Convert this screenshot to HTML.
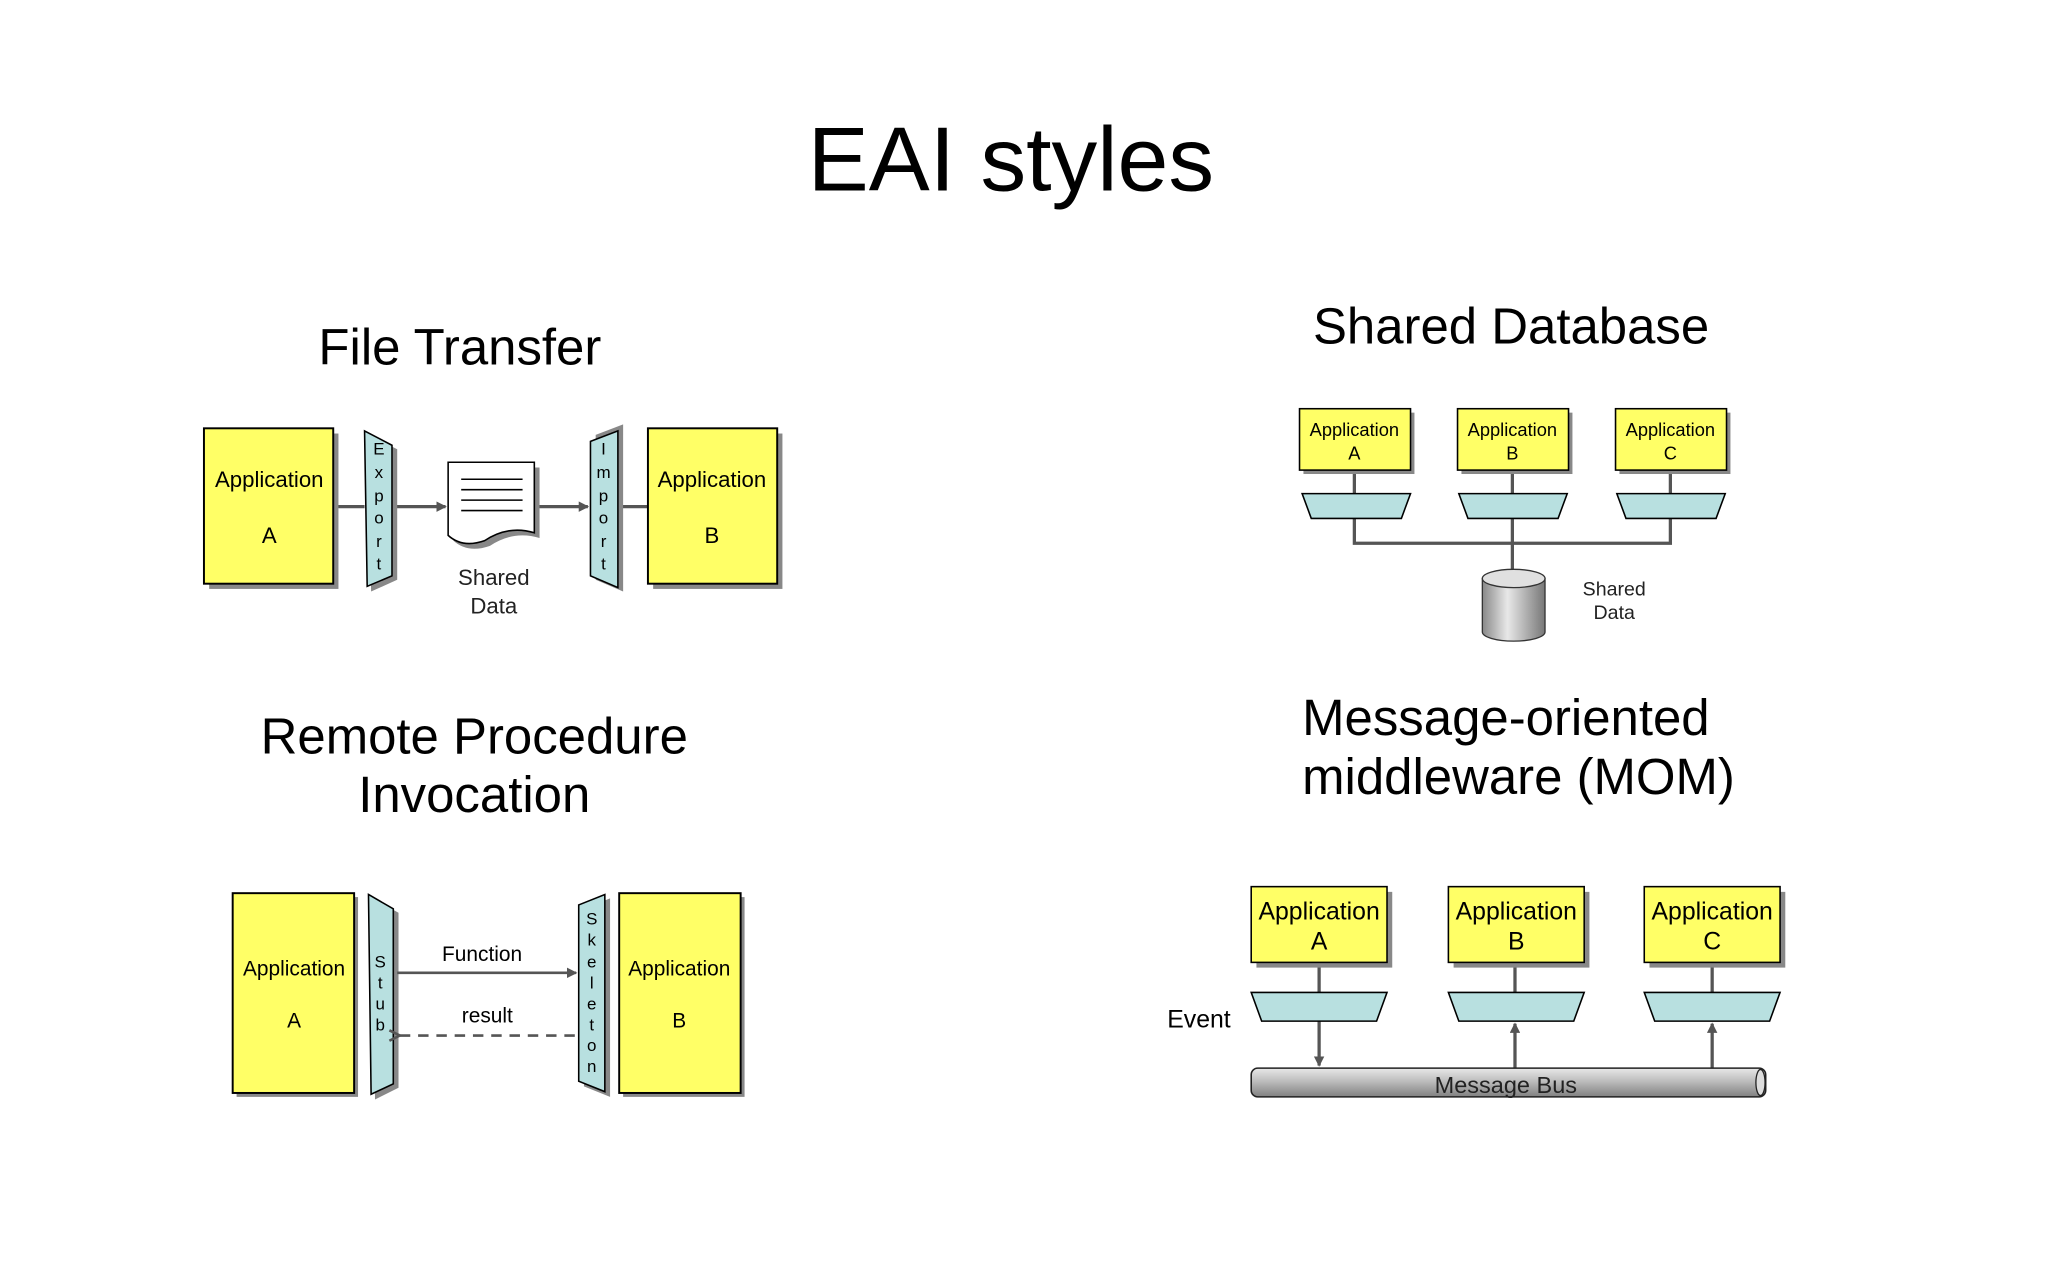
<!DOCTYPE html>
<html><head><meta charset="utf-8"><style>
html,body{margin:0;padding:0;background:#fff;}
svg{display:block;}
text{font-family:"Liberation Sans",sans-serif;}
</style></head><body>
<svg width="2048" height="1281" viewBox="0 0 1568 981" xmlns="http://www.w3.org/2000/svg">
<defs>
<marker id="ah" markerWidth="8" markerHeight="8" refX="7" refY="4" orient="auto" markerUnits="userSpaceOnUse"><path d="M0,0 L8,4 L0,8 z" fill="#555"/></marker>
<marker id="ao" markerWidth="10" markerHeight="10" refX="1" refY="5" orient="auto" markerUnits="userSpaceOnUse"><path d="M9,1 L1,5 L9,9" fill="none" stroke="#555" stroke-width="2"/></marker>
<linearGradient id="bus" x1="0" y1="0" x2="0" y2="1"><stop offset="0" stop-color="#e8e8e8"/><stop offset="0.5" stop-color="#b8b8b8"/><stop offset="1" stop-color="#808080"/></linearGradient>
<linearGradient id="cyl" x1="0" y1="0" x2="1" y2="0"><stop offset="0" stop-color="#888"/><stop offset="0.4" stop-color="#e8e8e8"/><stop offset="1" stop-color="#777"/></linearGradient>
</defs>
<rect width="1568" height="981" fill="#fff"/>
<g fill="#000" text-anchor="middle">
<text x="774" y="146" font-size="70">EAI styles</text>
<text x="352" y="279" font-size="39">File Transfer</text>
<text x="1157" y="263" font-size="39">Shared Database</text>
<text x="363" y="577" font-size="39">Remote Procedure</text>
<text x="363" y="622" font-size="39">Invocation</text>
<text x="997" y="563" font-size="39" text-anchor="start">Message-oriented</text>
<text x="997" y="608" font-size="39" text-anchor="start">middleware (MOM)</text>
</g>

<!-- File Transfer -->
<g stroke="#555" stroke-width="2.5" fill="none">
<line x1="255" y1="388" x2="279" y2="388"/>
<line x1="301" y1="388" x2="341" y2="388" marker-end="url(#ah)"/>
<line x1="410" y1="388" x2="450" y2="388" marker-end="url(#ah)"/>
<line x1="474" y1="388" x2="496" y2="388"/>
</g>
<rect x="160" y="332" width="99" height="119" fill="#888"/>
<rect x="156" y="328" width="99" height="119" fill="#ffff66" stroke="#000" stroke-width="1.5"/>
<text x="206" y="373" font-size="17" text-anchor="middle">Application</text>
<text x="206" y="416" font-size="17" text-anchor="middle">A</text>
<rect x="500" y="332" width="99" height="119" fill="#888"/>
<rect x="496" y="328" width="99" height="119" fill="#ffff66" stroke="#000" stroke-width="1.5"/>
<text x="545" y="373" font-size="17" text-anchor="middle">Application</text>
<text x="545" y="416" font-size="17" text-anchor="middle">B</text>
<polygon points="282,333 304,344 304,444 284,453" fill="#888"/>
<polygon points="279,330 300,341 300,441 281,449" fill="#b8e0e0" stroke="#000" stroke-width="1.2"/>
<g font-size="13" text-anchor="middle"><text x="290" y="348">E</text><text x="290" y="366">x</text><text x="290" y="384">p</text><text x="290" y="401">o</text><text x="290" y="419">r</text><text x="290" y="436">t</text></g>
<polygon points="456,333 477,325 477,453 456,444" fill="#888"/>
<polygon points="452,338 473,330 473,450 452,441" fill="#b8e0e0" stroke="#000" stroke-width="1.2"/>
<g font-size="13" text-anchor="middle"><text x="462" y="348">I</text><text x="462" y="366">m</text><text x="462" y="384">p</text><text x="462" y="401">o</text><text x="462" y="419">r</text><text x="462" y="436">t</text></g>
<path d="M347,358 L413,358 L413,412 Q393,406 375,418 Q358,424 347,414 Z" fill="#888"/>
<path d="M343,354 L409,354 L409,408 Q389,402 371,414 Q354,420 343,410 Z" fill="#fff" stroke="#000" stroke-width="1.2"/>
<g stroke="#000" stroke-width="1.2"><line x1="353" y1="367" x2="400" y2="367"/><line x1="353" y1="375" x2="400" y2="375"/><line x1="353" y1="383" x2="400" y2="383"/><line x1="353" y1="391" x2="400" y2="391"/></g>
<text x="378" y="448" font-size="17" text-anchor="middle" fill="#222">Shared</text>
<text x="378" y="470" font-size="17" text-anchor="middle" fill="#222">Data</text>

<!-- Shared Database -->
<g stroke="#555" stroke-width="2.5" fill="none">
<line x1="1037" y1="360" x2="1037" y2="378"/><line x1="1158" y1="360" x2="1158" y2="378"/><line x1="1279" y1="360" x2="1279" y2="378"/>
<polyline points="1037,397 1037,416 1279,416 1279,397"/>
<line x1="1158" y1="397" x2="1158" y2="438"/>
</g>
<g font-size="14" text-anchor="middle">
<rect x="998" y="316" width="85" height="47" fill="#888"/><rect x="995" y="313" width="85" height="47" fill="#ffff66" stroke="#000" stroke-width="1.2"/>
<text x="1037" y="334">Application</text><text x="1037" y="352">A</text>
<rect x="1119" y="316" width="85" height="47" fill="#888"/><rect x="1116" y="313" width="85" height="47" fill="#ffff66" stroke="#000" stroke-width="1.2"/>
<text x="1158" y="334">Application</text><text x="1158" y="352">B</text>
<rect x="1240" y="316" width="85" height="47" fill="#888"/><rect x="1237" y="313" width="85" height="47" fill="#ffff66" stroke="#000" stroke-width="1.2"/>
<text x="1279" y="334">Application</text><text x="1279" y="352">C</text>
</g>
<g fill="#b8e0e0" stroke="#000" stroke-width="1.2">
<polygon points="997,378 1080,378 1073,397 1004,397"/>
<polygon points="1117,378 1200,378 1193,397 1124,397"/>
<polygon points="1238,378 1321,378 1314,397 1245,397"/>
</g>
<path d="M1135,443 L1135,484 A24,7 0 0 0 1183,484 L1183,443 Z" fill="url(#cyl)" stroke="#333" stroke-width="1"/>
<ellipse cx="1159" cy="443" rx="24" ry="7" fill="#e0e0e0" stroke="#333" stroke-width="1"/>
<text x="1236" y="456" font-size="15" text-anchor="middle" fill="#222">Shared</text>
<text x="1236" y="474" font-size="15" text-anchor="middle" fill="#222">Data</text>

<!-- RPC -->
<rect x="181" y="687" width="93" height="153" fill="#888"/>
<rect x="178" y="684" width="93" height="153" fill="#ffff66" stroke="#000" stroke-width="1.5"/>
<text x="225" y="747" font-size="16" text-anchor="middle">Application</text>
<text x="225" y="787" font-size="16" text-anchor="middle">A</text>
<rect x="477" y="687" width="93" height="153" fill="#888"/>
<rect x="474" y="684" width="93" height="153" fill="#ffff66" stroke="#000" stroke-width="1.5"/>
<text x="520" y="747" font-size="16" text-anchor="middle">Application</text>
<text x="520" y="787" font-size="16" text-anchor="middle">B</text>
<polygon points="285,688 305,699 305,833 287,842" fill="#888"/>
<polygon points="282,685 301,696 301,830 284,838" fill="#b8e0e0" stroke="#000" stroke-width="1.2"/>
<g font-size="13" text-anchor="middle"><text x="291" y="741">S</text><text x="291" y="757">t</text><text x="291" y="773">u</text><text x="291" y="789">b</text></g>
<polygon points="447,696 467,688 467,840 447,832" fill="#888"/>
<polygon points="443,693 463,685 463,836 443,828" fill="#b8e0e0" stroke="#000" stroke-width="1.2"/>
<g font-size="13" text-anchor="middle"><text x="453" y="708">S</text><text x="453" y="724">k</text><text x="453" y="741">e</text><text x="453" y="757">l</text><text x="453" y="773">e</text><text x="453" y="789">t</text><text x="453" y="805">o</text><text x="453" y="821">n</text></g>
<line x1="304" y1="745" x2="441" y2="745" stroke="#555" stroke-width="2" marker-end="url(#ah)"/>
<line x1="440" y1="793" x2="306" y2="793" stroke="#555" stroke-width="2" stroke-dasharray="8,6" marker-end="url(#ao)"/>
<text x="369" y="736" font-size="16" text-anchor="middle">Function</text>
<text x="373" y="783" font-size="16" text-anchor="middle">result</text>

<!-- MOM -->
<g stroke="#555" stroke-width="2.5" fill="none">
<line x1="1010" y1="737" x2="1010" y2="760"/><line x1="1160" y1="737" x2="1160" y2="760"/><line x1="1311" y1="737" x2="1311" y2="760"/>
<line x1="1010" y1="782" x2="1010" y2="816" marker-end="url(#ah)"/>
<line x1="1160" y1="818" x2="1160" y2="784" marker-end="url(#ah)"/>
<line x1="1311" y1="818" x2="1311" y2="784" marker-end="url(#ah)"/>
</g>
<g font-size="19" text-anchor="middle">
<rect x="962" y="683" width="104" height="58" fill="#888"/><rect x="958" y="679" width="104" height="58" fill="#ffff66" stroke="#000" stroke-width="1.2"/>
<text x="1010" y="704">Application</text><text x="1010" y="727">A</text>
<rect x="1113" y="683" width="104" height="58" fill="#888"/><rect x="1109" y="679" width="104" height="58" fill="#ffff66" stroke="#000" stroke-width="1.2"/>
<text x="1161" y="704">Application</text><text x="1161" y="727">B</text>
<rect x="1263" y="683" width="104" height="58" fill="#888"/><rect x="1259" y="679" width="104" height="58" fill="#ffff66" stroke="#000" stroke-width="1.2"/>
<text x="1311" y="704">Application</text><text x="1311" y="727">C</text>
</g>
<g fill="#b8e0e0" stroke="#000" stroke-width="1.2">
<polygon points="958,760 1062,760 1054,782 966,782"/>
<polygon points="1109,760 1213,760 1205,782 1117,782"/>
<polygon points="1259,760 1363,760 1355,782 1267,782"/>
</g>
<rect x="958" y="818" width="394" height="22" rx="5" fill="url(#bus)" stroke="#222" stroke-width="1.2"/>
<ellipse cx="1348" cy="829" rx="3.5" ry="10" fill="#ddd" stroke="#222" stroke-width="1"/>
<text x="1153" y="837" font-size="18" text-anchor="middle" fill="#222">Message Bus</text>
<text x="918" y="787" font-size="19" text-anchor="middle">Event</text>
</svg>
</body></html>
